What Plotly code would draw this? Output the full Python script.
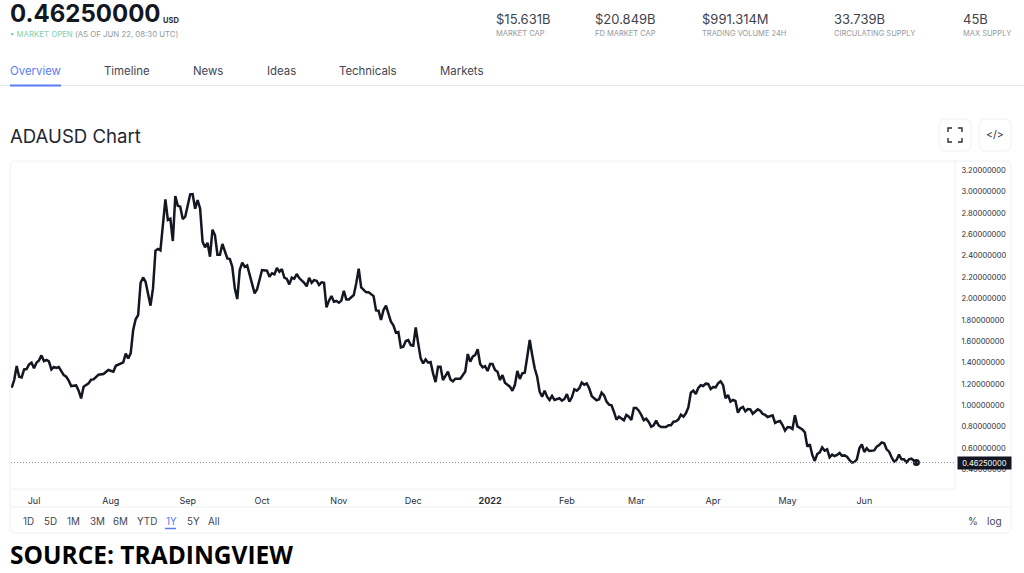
import pandas as pd
import plotly.graph_objects as go

W, H = 1024, 573
INK = "#131722"
TEXT = "#2a2e39"
GREY = "#9598a1"
BLUE = "#5a7df5"
GREEN = "#7fd0ae"
LINE = "#eef0f5"

START_DATE = "2021-06-22"
LAST_PRICE = 0.4625

# days after START_DATE, closes
days = [0, 1, 2, 3, 4, 5, 6, 7, 8, 9, 10, 11, 12, 13, 14, 15, 16, 17, 18, 19, 21, 22, 23, 24, 26, 27, 28, 29,
        31, 32, 33, 35, 37, 39, 41, 42, 45, 46, 47, 48, 49, 50, 51, 52, 53, 54, 56, 57, 58, 59, 60,
        62, 63, 64, 65, 66, 67, 68, 69, 70, 72, 73, 74, 75, 76, 77, 78, 79, 80, 81, 82, 83, 84, 85,
        87, 88, 89, 90, 91, 92, 93, 94, 95, 98, 99,
        101, 103, 104, 105, 106, 107, 108, 109, 110, 111, 112, 113, 114, 115, 116, 118, 119, 120, 121, 122, 123,
        124, 125, 126, 127, 128, 129, 130, 131, 132, 133, 134, 135, 136, 138, 139, 140, 141, 142, 143, 144, 146,
        147, 148, 149, 150, 151, 152, 153, 154, 155, 156, 157, 158, 159, 160, 161, 162, 163, 164, 165, 166, 167,
        168, 169, 170, 171, 172, 173, 174, 175, 176, 177, 178, 179, 181, 183, 184, 185, 186, 187, 188, 189, 190,
        191, 192, 193, 194, 195, 196, 197, 198, 199, 200, 201, 202, 203, 204, 205, 206, 207, 208, 209, 210, 211,
        212, 213, 214, 215, 216, 217, 218, 219, 221, 222, 223, 224, 225, 226, 227, 228, 229, 230, 231, 232, 233,
        234, 235, 236, 237, 238, 239, 240, 241, 242, 243, 244, 245, 246, 247, 248, 249, 250, 251, 252, 253, 254,
        255, 256, 257, 258, 259, 260, 261, 262, 264, 265, 266, 267, 268, 269, 270, 271, 272, 273, 274, 275, 276,
        277, 278, 279, 280, 281, 282, 283, 284, 285, 286, 287, 288, 289, 290, 291, 292, 293, 294, 295, 296, 297,
        298, 299, 300, 301, 302, 303, 304, 305, 307, 308, 309, 310, 311, 312, 313, 314, 315, 316, 317, 318, 319,
        320, 321, 322, 323, 324, 325, 326, 327, 328, 329, 330, 331, 332, 333, 334, 335, 336, 337, 338, 339, 340,
        341, 342, 343, 344, 345, 346, 348, 349, 350, 351, 352, 353, 354, 355, 356, 357, 358, 359, 360, 361, 362,
        363, 364, 365]
closes = [1.164, 1.236, 1.367, 1.267, 1.261, 1.336, 1.339, 1.383, 1.399, 1.346, 1.399, 1.42, 1.467, 1.414, 1.424,
          1.411, 1.336, 1.358, 1.349, 1.358, 1.283, 1.267, 1.23, 1.18, 1.186, 1.136, 1.064, 1.174,
          1.205, 1.239, 1.242, 1.286, 1.292, 1.33, 1.314, 1.37, 1.402, 1.483, 1.439, 1.486, 1.705, 1.805, 1.845,
          2.148, 2.198, 2.158, 1.933, 2.095, 2.448, 2.464, 2.451,
          2.93, 2.736, 2.748, 2.539, 2.961, 2.87, 2.861, 2.745, 2.767, 2.976, 2.979, 2.842, 2.923, 2.845, 2.533,
          2.48, 2.523, 2.392, 2.645, 2.595, 2.411, 2.411, 2.511,
          2.376, 2.37, 2.298, 2.095, 1.995, 2.267, 2.336, 2.298, 2.311, 2.048, 2.087,
          2.267, 2.261, 2.205, 2.236, 2.226, 2.286, 2.251, 2.276, 2.195, 2.183, 2.133, 2.195, 2.186, 2.23, 2.192,
          2.148, 2.114, 2.195, 2.148, 2.173, 2.167,
          2.127, 2.152, 2.148, 1.917, 1.98, 2.023, 1.97, 1.977, 1.961, 1.98, 2.073, 1.992, 1.992, 2.033, 2.142,
          2.28, 2.105, 2.086, 2.058, 2.058, 2.023,
          1.889, 1.886, 1.799, 1.892, 1.933, 1.861, 1.783, 1.749, 1.68, 1.686, 1.542, 1.549, 1.602, 1.611, 1.564,
          1.558, 1.73, 1.58, 1.439, 1.392, 1.43,
          1.399, 1.405, 1.299, 1.217, 1.361, 1.361, 1.236, 1.277, 1.314, 1.242, 1.224, 1.249, 1.249, 1.317, 1.48,
          1.408, 1.455, 1.471, 1.524, 1.386, 1.355,
          1.367, 1.321, 1.386, 1.386, 1.33, 1.314, 1.236, 1.283, 1.211, 1.192, 1.174, 1.136, 1.189, 1.321, 1.246,
          1.299, 1.305, 1.455, 1.611, 1.471, 1.346,
          1.267, 1.127, 1.08, 1.137, 1.08, 1.049, 1.087, 1.049, 1.065, 1.043, 1.059, 1.105, 1.034, 1.074, 1.149,
          1.137, 1.159, 1.212, 1.193, 1.205, 1.159,
          1.087, 1.065, 1.046, 1.056, 1.118, 1.093, 1.034, 1.006, 1.0, 0.937, 0.865, 0.893, 0.874, 0.859, 0.909,
          0.893, 0.862, 0.974, 0.974, 0.949, 0.909,
          0.859, 0.874, 0.843, 0.799, 0.812, 0.856, 0.812, 0.796, 0.796, 0.812, 0.812, 0.846, 0.849, 0.868, 0.912,
          0.893, 0.924, 0.98, 1.118, 1.137, 1.105,
          1.162, 1.187, 1.18, 1.202, 1.199, 1.152, 1.171, 1.168, 1.205, 1.224, 1.19, 1.065, 1.096, 1.034, 1.049,
          1.04, 0.93, 0.971, 0.984, 0.943, 0.965,
          0.962, 0.921, 0.946, 0.962, 0.949, 0.918, 0.909, 0.89, 0.906, 0.834, 0.846, 0.852, 0.815, 0.762, 0.793,
          0.793, 0.778, 0.906, 0.802, 0.79, 0.774,
          0.746, 0.612, 0.634, 0.534, 0.478, 0.543, 0.559, 0.605, 0.574, 0.587, 0.512, 0.537, 0.524, 0.534, 0.552,
          0.527, 0.53, 0.518, 0.487, 0.462, 0.468,
          0.493, 0.596, 0.634, 0.562, 0.596, 0.571, 0.577, 0.612, 0.627, 0.652, 0.643, 0.587, 0.565, 0.512, 0.471,
          0.487, 0.537, 0.493, 0.493, 0.465, 0.493,
          0.499, 0.484, 0.4625]

price_ticks = [0.4, 0.6, 0.8, 1.0, 1.2, 1.4, 1.6, 1.8, 2.0, 2.2, 2.4, 2.6, 2.8, 3.0, 3.2]
month_ticks = ["2021-07-01", "2021-08-01", "2021-09-01", "2021-10-01", "2021-11-01", "2021-12-01",
               "2022-01-01", "2022-02-01", "2022-03-01", "2022-04-01", "2022-05-01", "2022-06-01"]
month_labels = ["Jul", "Aug", "Sep", "Oct", "Nov", "Dec", "<b>2022</b>", "Feb", "Mar", "Apr", "May", "Jun"]

stat_values = ["$15.631B", "$20.849B", "$991.314M", "33.739B", "45B"]
stat_names = ["MARKET CAP", "FD MARKET CAP", "TRADING VOLUME 24H", "CIRCULATING SUPPLY", "MAX SUPPLY"]
tabs = ["Overview", "Timeline", "News", "Ideas", "Technicals", "Markets"]
ranges = ["1D", "5D", "1M", "3M", "6M", "YTD", "1Y", "5Y", "All"]

dates = pd.Timestamp(START_DATE) + pd.to_timedelta(days, unit="D")


def px(x):
    return x / W


def py(y):
    return 1 - y / H


def label(x, y, text, size, color=TEXT, family="Inter", xanchor="left"):
    fig.add_annotation(x=px(x), y=py(y), xref="paper", yref="paper", text=text, showarrow=False,
                       xanchor=xanchor, yanchor="middle", borderpad=0,
                       font=dict(size=size, color=color, family=family))


def rule(x0, y0, x1, y1, color=LINE, width=1):
    fig.add_shape(type="line", xref="paper", yref="paper", x0=px(x0), y0=py(y0), x1=px(x1), y1=py(y1),
                  line=dict(color=color, width=width))


def round_box(x0, y0, x1, y1, r=6, color=LINE):
    p = (f"M {px(x0 + r)} {py(y0)} L {px(x1 - r)} {py(y0)} Q {px(x1)} {py(y0)} {px(x1)} {py(y0 + r)} "
         f"L {px(x1)} {py(y1 - r)} Q {px(x1)} {py(y1)} {px(x1 - r)} {py(y1)} "
         f"L {px(x0 + r)} {py(y1)} Q {px(x0)} {py(y1)} {px(x0)} {py(y1 - r)} "
         f"L {px(x0)} {py(y0 + r)} Q {px(x0)} {py(y0)} {px(x0 + r)} {py(y0)} Z")
    fig.add_shape(type="path", xref="paper", yref="paper", path=p, line=dict(color=color, width=1))


fig = go.Figure()
fig.add_trace(go.Scatter(x=dates, y=closes, mode="lines", line=dict(color=INK, width=2.5), hoverinfo="skip"))
fig.add_trace(go.Scatter(x=dates[-1:], y=closes[-1:], mode="markers",
                         marker=dict(color=INK, size=7), hoverinfo="skip"))

fig.update_layout(
    width=W, height=H, showlegend=False,
    margin=dict(l=0, r=0, t=0, b=0),
    paper_bgcolor="white", plot_bgcolor="white",
    xaxis=dict(domain=[px(11), px(955)], range=["2021-06-21 17:00", "2022-07-07 14:00"],
               tickmode="array", tickvals=month_ticks, ticktext=month_labels,
               showgrid=False, zeroline=False, showline=False, automargin=False,
               ticks="outside", ticklen=3, tickcolor="white", tickangle=0,
               tickfont=dict(size=9, color=TEXT, family="Inter")),
    yaxis=dict(domain=[py(489), py(161)], range=[0.215, 3.289], side="right",
               tickmode="array", tickvals=price_ticks, tickformat=".8f",
               showgrid=False, zeroline=False, showline=False, automargin=False,
               ticks="outside", ticklen=4, tickcolor="white",
               tickfont=dict(size=7.5, color=TEXT, family="Inter")),
)

# last price line and tag
fig.add_shape(type="line", xref="paper", yref="y", x0=px(11), x1=px(955), y0=LAST_PRICE, y1=LAST_PRICE,
              line=dict(color="#8a8d96", width=1, dash="1px,2px"))
fig.add_annotation(x=px(957), y=LAST_PRICE, xref="paper", yref="y", text=f"{LAST_PRICE:.8f}", showarrow=False,
                   xanchor="left", yanchor="middle", bgcolor="#131722", width=53, height=12, align="center",
                   borderpad=0, font=dict(size=7.5, color="white", family="Inter"))

# chart frame
round_box(10, 161, 1011, 533)
rule(955, 161, 955, 489)
rule(10, 489, 955, 489)
rule(10, 507, 1011, 507)

# header
label(9, 14, "<b>0.46250000</b>", 24, color=INK)
label(161.5, 20, "<b>USD</b>", 7.5, color=TEXT)
label(9, 34, f"<span style='color:{GREEN}'>▪ MARKET OPEN</span> "
      f"<span style='color:{GREY}'>(AS OF JUN 22, 08:30 UTC)</span>", 7.8)
for x, val, name in zip([494.5, 593.5, 700.5, 832.5, 961.5], stat_values, stat_names):
    label(x, 19, val, 13, color="#3f434e")
    label(x, 34, name, 7.5, color=GREY)

# tabs
for x, tab in zip([9, 103, 192, 266, 338, 439], tabs):
    label(x, 71, tab, 11.4, color=BLUE if tab == "Overview" else "#434651")
rule(0, 85.5, 1024, 85.5, color="#e4e6ee")
rule(10, 85.5, 61, 85.5, color=BLUE, width=2)

label(9, 136, "ADAUSD Chart", 18.6, color="#22262f")

# toolbar buttons
round_box(939, 119, 971, 151, r=7)
round_box(979, 119, 1011, 151, r=7)
for cx, cy, dx, dy in [(948, 128, 1, 1), (962, 128, -1, 1), (948, 142, 1, -1), (962, 142, -1, -1)]:
    fig.add_shape(type="path", xref="paper", yref="paper", line=dict(color="#2a2e39", width=1.4),
                  path=f"M {px(cx)} {py(cy + 4 * dy)} L {px(cx)} {py(cy)} L {px(cx + 4 * dx)} {py(cy)}")
label(995, 135, "&lt;/&gt;", 10.5, color="#2a2e39", xanchor="center")

# range selector
for x, r in zip([22, 43, 66, 89, 112, 136, 165, 186, 207], ranges):
    label(x, 521, r, 9.8, color=BLUE if r == "1Y" else "#434651")
rule(165, 528.5, 176, 528.5, color=BLUE, width=1.5)
label(973, 521, "%", 10, color="#434651", xanchor="center")
label(994.5, 521, "log", 10, color="#434651", xanchor="center")

label(9, 554, "<b>SOURCE: TRADINGVIEW</b>", 24.5, color="black", family="Open Sans")

# browser default body margin would shift the page by 8px
fig.write_html("out.html", config=dict(displayModeBar=False),
               post_script="document.body.style.margin='0';document.body.style.overflow='hidden';")
